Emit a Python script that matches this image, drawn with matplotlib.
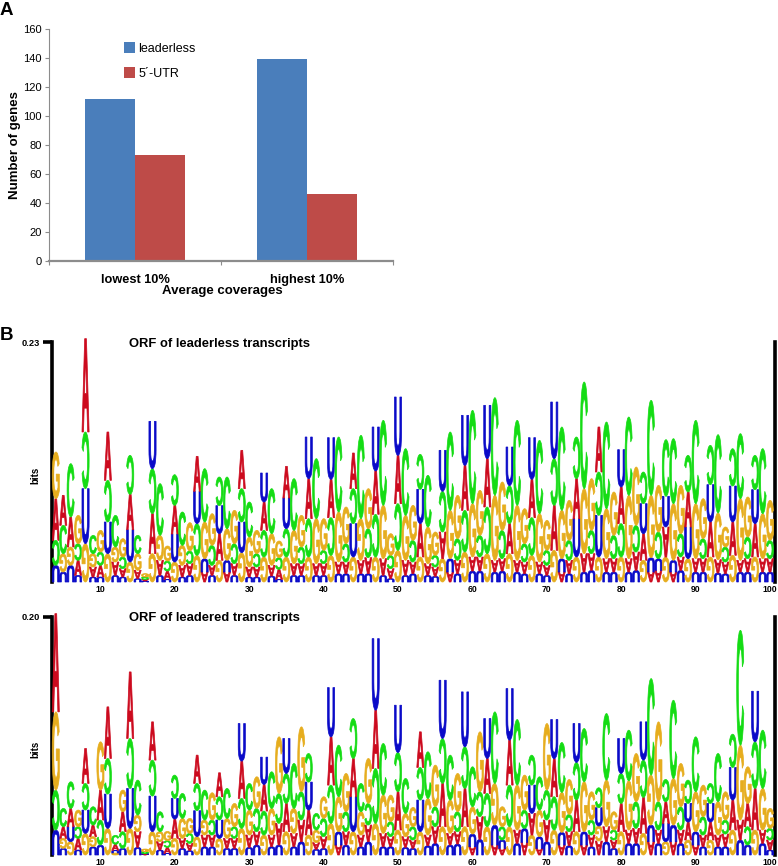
import numpy as np
import matplotlib
matplotlib.use("Agg")
import matplotlib.pyplot as plt
from matplotlib.font_manager import FontProperties
from matplotlib.patches import PathPatch
from matplotlib.textpath import TextPath
from matplotlib.transforms import Affine2D

W, H = 778, 866

# panel A
groups = ["lowest 10%", "highest 10%"]
leaderless = [112, 139]
utr = [73, 46]

# panel B, letter heights per position (4..100)
# top logo: 720 units = 0.23 bits, bottom logo: 715 units = 0.20 bits
positions = list(range(4, 101))
top_A = [125,90,90,45,280,30,35,145,40,25,106,25,5,120,45,25,86,35,35,105,30,30,80,30,35,115,30,30,85,32,30,95,35,35,120,35,35,115,35,35,107,40,48,130,50,30,145,45,35,100,35,28,80,30,40,135,42,42,145,35,37,90,35,35,115,35,30,135,30,40,120,55,50,135,40,40,110,40,55,80,30,35,90,30,40,105,40,40,105,40,35,100,35,40,100,40,40]
top_C = [75,85,160,50,170,55,40,125,95,35,117,55,7,135,155,30,92,100,38,95,160,60,86,155,60,100,105,40,80,135,35,85,155,50,115,180,40,113,225,55,105,250,87,128,255,40,140,200,65,105,155,35,122,235,65,125,280,65,140,293,85,114,255,55,113,220,45,140,250,60,125,320,70,130,260,70,100,235,80,95,285,80,170,195,70,110,250,60,118,235,45,112,195,65,103,195,55]
top_G = [140,55,55,85,115,40,65,85,45,55,60,50,10,85,75,45,60,60,85,80,110,95,65,95,100,88,90,70,75,95,50,75,100,95,75,135,95,80,150,110,75,125,120,75,160,65,95,135,105,75,110,70,70,145,130,90,160,135,85,195,145,85,165,105,80,145,90,95,145,120,75,195,155,75,150,130,75,190,175,65,187,140,75,170,145,70,165,120,75,140,60,80,185,120,75,135,120]
top_U = [50,30,50,20,165,15,15,95,20,15,97,10,3,142,20,8,84,15,20,97,40,20,84,35,20,92,15,15,87,18,8,92,20,20,125,20,20,125,25,25,100,25,25,132,20,10,175,20,25,103,20,17,123,40,25,150,33,33,160,30,33,116,30,25,125,25,20,170,40,25,115,30,35,125,30,30,112,30,35,90,43,35,92,35,35,95,30,30,112,27,25,108,30,30,102,30,30]

bottom_A = [295,35,55,35,105,35,90,155,18,60,200,47,2,115,25,18,58,30,22,85,35,35,72,30,30,112,37,40,80,35,65,85,40,65,75,20,35,145,30,40,115,35,50,175,40,30,115,32,25,107,32,50,130,35,37,115,25,68,105,30,20,135,40,38,65,20,65,114,30,42,95,30,35,42,45,25,85,40,45,108,40,40,65,40,40,54,30,35,54,35,38,90,60,70,125,40,30]
bottom_C = [120,55,80,35,80,55,75,107,27,50,150,105,5,108,60,20,70,75,30,82,90,45,70,90,35,90,80,70,72,110,90,90,135,85,86,50,55,115,155,60,120,85,65,165,155,45,118,105,40,98,140,60,135,135,60,125,120,75,100,215,40,125,197,55,90,100,90,100,150,52,113,160,45,60,200,30,90,152,80,112,290,85,67,235,70,70,165,55,60,145,42,100,345,55,140,175,35]
bottom_G = [235,30,40,50,65,30,145,80,6,65,80,50,8,70,30,28,50,60,45,55,45,82,50,60,70,80,75,95,60,80,170,70,75,195,60,38,65,95,105,115,70,70,135,95,115,80,75,70,58,70,110,125,85,100,115,85,82,180,85,125,60,85,135,105,60,80,200,75,120,105,70,150,85,45,140,55,70,148,145,65,150,240,40,140,130,45,120,95,45,100,85,75,225,110,75,125,60]
bottom_U = [75,20,45,15,70,25,30,103,8,20,120,23,3,107,15,5,62,20,13,78,25,25,55,20,20,113,23,30,82,25,30,105,25,40,84,17,20,148,40,30,105,25,40,215,25,25,142,23,20,95,28,35,175,30,33,165,38,47,120,60,25,155,35,42,85,35,40,118,38,28,117,40,25,55,40,20,105,35,35,115,50,35,55,50,35,56,40,25,56,25,25,98,45,30,152,35,15]

letters = ["A", "C", "G", "U"]
letter_colors = {"A": "#cc0a1e", "C": "#14dc14", "G": "#e6ad1e", "U": "#0a0ac8"}
# letters under this share of their column are drawn upside down
background = {"A": 0.22, "C": 0.32, "G": 0.30, "U": 0.20}

plt.rcParams["font.family"] = ["Liberation Sans", "DejaVu Sans"]


def box(left, top, right, bottom):
    """pixel box -> figure fractions"""
    return [left / W, 1 - bottom / H, (right - left) / W, (bottom - top) / H]


def draw_letter(ax, ch, pos, base, height, flipped):
    prop = FontProperties(family="Liberation Sans", weight="bold")
    path = TextPath((0, 0), ch, size=1, prop=prop)
    bb = path.get_extents()
    tr = Affine2D().translate(-bb.x0, -bb.y0).scale(0.96 / bb.width, height / bb.height)
    if flipped:
        tr = tr.translate(-0.48, -height / 2).scale(-1, -1).translate(0.48, height / 2)
    tr = tr.translate(pos - 0.48, base)
    ax.add_patch(PathPatch(path.transformed(tr), fc=letter_colors[ch], ec=letter_colors[ch],
                           lw=0.5, clip_on=False, zorder=3))


def draw_logo(ax, columns, unit, top, top_label):
    heights = np.array(columns, dtype=float) * unit
    for i, pos in enumerate(positions):
        # smallest letter at the bottom of the stack
        base = 0
        total = heights[:, i].sum()
        for k in np.argsort(heights[:, i], kind="stable"):
            if heights[k, i] > 0:
                flipped = heights[k, i] / total < background[letters[k]]
                draw_letter(ax, letters[k], pos, base, heights[k, i], flipped)
                base += heights[k, i]
    ax.set_xlim(3.49, 100.67)
    ax.set_ylim(0, top)
    ax.spines["top"].set_visible(False)
    ax.spines["bottom"].set_visible(False)
    ax.spines["left"].set_linewidth(2.6)
    ax.spines["right"].set_linewidth(2.6)
    ax.set_xticks(range(10, 101, 10))
    ax.tick_params(axis="x", length=0, pad=2.5, labelsize=6.2)
    ax.set_yticks([top])
    ax.set_yticklabels([top_label], fontsize=6.7, fontweight="bold")
    ax.tick_params(axis="y", length=6.5, width=2.6, pad=2)
    for lab in ax.get_xticklabels():
        lab.set_fontweight("bold")
    ax.set_ylabel("bits", fontsize=7, fontweight="bold")
    ax.yaxis.set_label_coords(-0.0165, 0.445)


fig = plt.figure(figsize=(W / 100, H / 100), dpi=100)

# A: bars
ax_a = fig.add_axes(box(49, 29, 393, 261))
x = np.arange(len(groups))
bar_w = 0.288
b1 = ax_a.bar(x - bar_w / 2, leaderless, bar_w, color="#4a7ebb", label="leaderless")
b2 = ax_a.bar(x + bar_w / 2, utr, bar_w, color="#be4b48", label="5´-UTR")
ax_a.set_xlim(-0.5, 1.5)
ax_a.set_ylim(0, 160)
ax_a.set_yticks(range(0, 161, 20))
ax_a.set_xticks([-0.5, 0.5, 1.5])
ax_a.set_xticklabels([])
ax_a.spines["top"].set_visible(False)
ax_a.spines["right"].set_visible(False)
ax_a.spines["left"].set_color("#8c8c8c")
ax_a.spines["bottom"].set_color("#8c8c8c")
ax_a.spines["bottom"].set_linewidth(1.6)
ax_a.tick_params(axis="y", length=3, color="#8c8c8c", labelsize=8, pad=2)
ax_a.tick_params(axis="x", length=3, color="#8c8c8c")
for i, name in enumerate(groups):
    ax_a.text(i, -17.5, name, ha="center", va="bottom", fontsize=9.2, fontweight="bold", clip_on=False)
ax_a.set_xlabel("Average coverages", fontsize=9.5, fontweight="bold")
ax_a.xaxis.set_label_coords(0.505, -0.105)
ax_a.set_ylabel("Number of genes", fontsize=9.5, fontweight="bold", labelpad=2)
ax_a.legend(loc="upper left", bbox_to_anchor=(0.2, 0.97), frameon=False, fontsize=9,
            handlelength=0.9, handleheight=0.9, handletextpad=0.25, labelspacing=1.0, borderpad=0)

# B: sequence logos
ax_top = fig.add_axes(box(52, 342, 775, 582))
draw_logo(ax_top, [top_A, top_C, top_G, top_U], 0.23 / 720, 0.23, "0.23")
ax_bottom = fig.add_axes(box(52, 617, 775, 855))
draw_logo(ax_bottom, [bottom_A, bottom_C, bottom_G, bottom_U], 0.20 / 715, 0.20, "0.20")

fig.text(129 / W, 1 - 344 / H, "ORF of leaderless transcripts", fontsize=9.4, fontweight="bold", va="center")
fig.text(129 / W, 1 - 618 / H, "ORF of leadered transcripts", fontsize=9.4, fontweight="bold", va="center")

fig.text(0, 1 - 15 / H, "A", fontsize=13.5, fontweight="bold")
fig.text(0, 1 - 340 / H, "B", fontsize=13.5, fontweight="bold")

fig.savefig("out.png", dpi=100)
